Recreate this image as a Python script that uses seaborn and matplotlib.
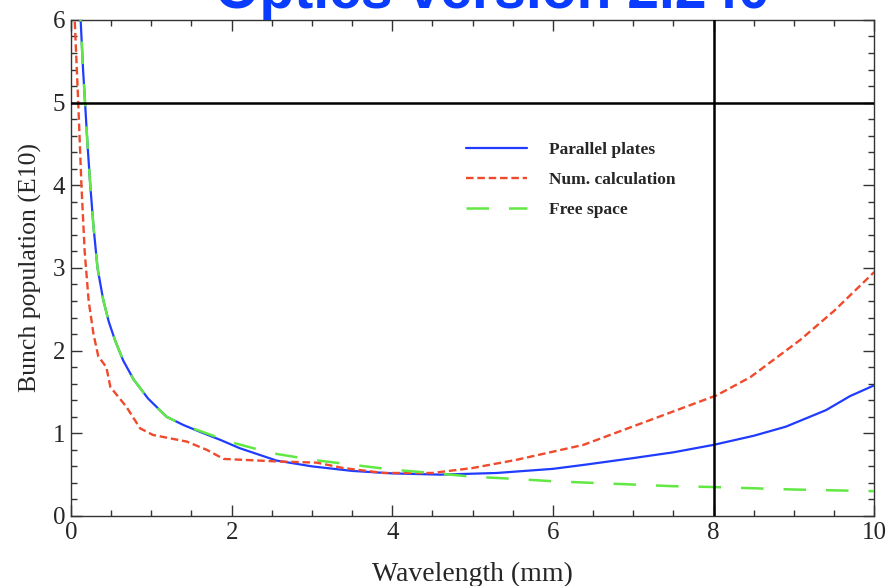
import numpy as np
import pandas as pd
import matplotlib
matplotlib.use("Agg")
import matplotlib.pyplot as plt
import seaborn as sns
from matplotlib.ticker import MultipleLocator

# Parallel-plates model
pp_x = [0.10, 0.12, 0.15, 0.175, 0.205, 0.24, 0.28, 0.33, 0.40, 0.47, 0.55, 0.65,
        0.78, 0.96, 1.19, 1.4, 1.6, 1.86, 2.1, 2.56, 3.0, 3.5, 4.0, 4.6, 5.3, 6.0,
        6.4, 7.0, 7.5, 8.0, 8.5, 8.9, 9.4, 9.7, 10.0]
pp_y = [6.6, 6.0, 5.4, 5.0, 4.5, 4.0, 3.5, 3.0, 2.62, 2.35, 2.12, 1.88,
        1.65, 1.42, 1.2, 1.1, 1.02, 0.92, 0.82, 0.67, 0.6, 0.545, 0.515, 0.50, 0.52, 0.57,
        0.62, 0.70, 0.77, 0.86, 0.97, 1.08, 1.28, 1.45, 1.58]

# Numerical calculation
num_x = [0.035, 0.046, 0.09, 0.13, 0.17, 0.22, 0.28, 0.34, 0.44, 0.49, 0.69, 0.86,
         1.02, 1.44, 1.69, 1.9, 2.56, 3.06, 3.39, 3.89, 4.5, 5.0, 5.55, 6.38, 7.21,
         8.04, 8.46, 9.08, 9.5, 10.0]
num_y = [6.6, 6.0, 5.0, 4.0, 3.2, 2.6, 2.2, 1.93, 1.8, 1.56, 1.32, 1.06,
         0.98, 0.9, 0.8, 0.69, 0.66, 0.645, 0.58, 0.52, 0.52, 0.58, 0.68, 0.86, 1.16,
         1.46, 1.68, 2.13, 2.48, 2.95]

# Free-space model
fs_x = [0.10, 0.12, 0.15, 0.175, 0.205, 0.24, 0.28, 0.33, 0.40, 0.47, 0.55, 0.65,
        0.78, 0.96, 1.19, 1.4, 1.6, 2.0, 2.5, 3.0, 3.5, 4.0, 4.5, 5.0, 5.5, 6.0,
        6.5, 7.0, 7.5, 8.0, 8.5, 9.0, 9.5, 10.0]
fs_y = [6.6, 6.0, 5.4, 5.0, 4.5, 4.0, 3.5, 3.0, 2.62, 2.35, 2.12, 1.88,
        1.65, 1.42, 1.2, 1.1, 1.03, 0.89, 0.76, 0.68, 0.62, 0.56, 0.52, 0.475, 0.45, 0.42,
        0.40, 0.38, 0.36, 0.35, 0.335, 0.32, 0.31, 0.30]

labels = ["Parallel plates", "Num. calculation", "Free space"]
x_ticks = [0, 2, 4, 6, 8, 10]
y_ticks = [0, 1, 2, 3, 4, 5, 6]
limit_population = 5.0
limit_wavelength = 8.0
title = "Optics version 2.240"

sns.set_theme(style="ticks")
plt.rcParams["font.family"] = ["Liberation Serif", "DejaVu Serif"]

fig = plt.figure(figsize=(8.92, 5.86), dpi=100)
ax = fig.add_axes([0.0796, 0.1195, 0.9004, 0.8465])

sns.lineplot(x=pp_x, y=pp_y, ax=ax, color="#1f3cff", lw=1.6, label=labels[0],
             sort=False, zorder=3)
sns.lineplot(x=num_x, y=num_y, ax=ax, color="#f04a2c", lw=1.7,
             linestyle=(0, (3.2, 1.6)), label=labels[1], sort=False, zorder=4)
sns.lineplot(x=fs_x, y=fs_y, ax=ax, color="#62e843", lw=1.8,
             linestyle=(0, (9, 8)), label=labels[2], sort=False, zorder=5)

ax.axhline(limit_population, color="black", lw=1.8, zorder=6)
ax.axvline(limit_wavelength, color="black", lw=1.8, zorder=6)

ax.set_xlim(0, 10)
ax.set_ylim(0, 6)
ax.set_xticks(x_ticks)
ax.set_yticks(y_ticks)
ax.xaxis.set_minor_locator(MultipleLocator(0.5))
ax.yaxis.set_minor_locator(MultipleLocator(0.2))
ax.tick_params(which="both", direction="in", top=True, right=True,
               color="#333333", width=1.0)
ax.tick_params(which="major", length=8, labelsize=18, pad=4)
ax.tick_params(which="minor", length=4)
for s in ax.spines.values():
    s.set_color("#333333")
    s.set_linewidth(1.0)
    s.set_visible(True)

ax.set_xlabel("Wavelength (mm)", fontsize=20, labelpad=13)
ax.set_ylabel("Bunch population (E10)", fontsize=18.5, labelpad=8)

leg = ax.legend(loc="upper left", bbox_to_anchor=(0.4725, 0.786), frameon=False,
                handlelength=3.5, handletextpad=1.3, labelspacing=0.8,
                prop={"family": "Liberation Serif", "weight": "bold", "size": 12.5})

fig.text(0.552, 1 - 8 / 586, title, color="#0a3cff", fontsize=41,
         fontweight="bold", family="Liberation Sans", ha="center", va="baseline")

fig.savefig("out.png", dpi=100)
